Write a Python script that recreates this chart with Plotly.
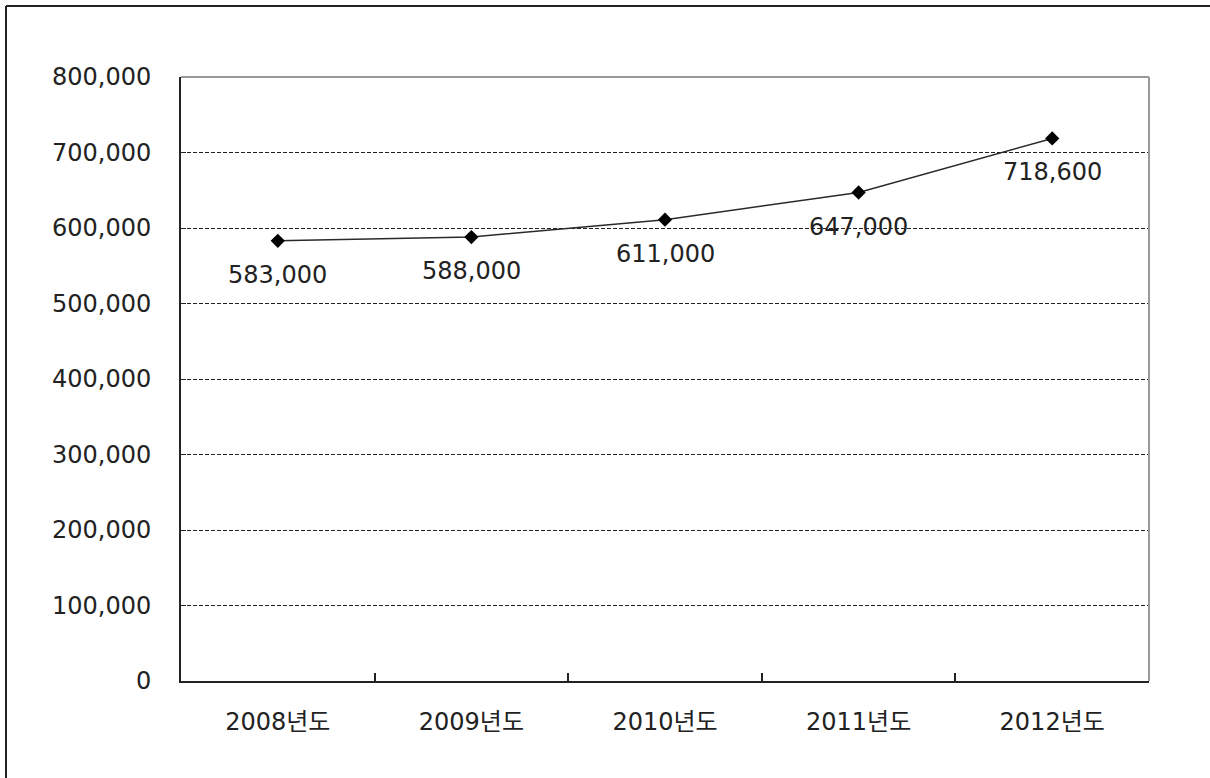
import plotly.graph_objects as go

years = ["2008년도", "2009년도", "2010년도", "2011년도", "2012년도"]
values = [583000, 588000, 611000, 647000, 718600]
y_ticks = [0, 100000, 200000, 300000, 400000, 500000, 600000, 700000, 800000]

W, H = 1210, 778
L, R, T, B = 181, 61, 77, 97
pw, ph = W - L - R, H - T - B

font_family = "DejaVu Sans, Noto Sans CJK KR, sans-serif"
FS = 24
TXT = "#222222"

fig = go.Figure()
fig.add_trace(go.Scatter(
    x=years, y=values, mode="lines+markers",
    line=dict(color="#2a2a2a", width=1.5),
    marker=dict(symbol="diamond", size=11, color="black"),
    showlegend=False, hoverinfo="skip",
))

for yr, v in zip(years, values):
    fig.add_annotation(x=yr, y=v, text=f"{v:,}", showarrow=False, yshift=-34,
                       font=dict(family=font_family, size=FS, color=TXT))

def px_to_paper_x(p):
    return (p - L) / pw

def px_to_paper_y(p):
    return (H - B - p) / ph

shapes = [
    # outer frame (top and left visible)
    dict(type="line", xref="paper", yref="paper", x0=px_to_paper_x(6), x1=px_to_paper_x(1215),
         y0=px_to_paper_y(6), y1=px_to_paper_y(6), line=dict(color="#222222", width=2)),
    dict(type="line", xref="paper", yref="paper", x0=px_to_paper_x(6), x1=px_to_paper_x(6),
         y0=px_to_paper_y(6), y1=px_to_paper_y(790), line=dict(color="#222222", width=2)),
    # plot frame top/right gray
    dict(type="line", xref="paper", yref="paper", x0=0, x1=1, y0=1, y1=1,
         line=dict(color="#999999", width=2)),
    dict(type="line", xref="paper", yref="paper", x0=1, x1=1, y0=0, y1=1,
         line=dict(color="#999999", width=2)),
]

fig.update_layout(
    width=W, height=H,
    margin=dict(l=L, r=R, t=T, b=B, pad=0),
    paper_bgcolor="white", plot_bgcolor="white",
    font=dict(family=font_family, size=FS, color=TXT),
    shapes=shapes,
    xaxis=dict(
        type="category", range=[-0.5, 4.5], tickson="boundaries",
        ticks="inside", ticklen=8, tickwidth=1.5, tickcolor="#222222",
        showgrid=False, zeroline=False,
        showline=True, linecolor="#222222", linewidth=2,
        tickfont=dict(size=FS, color=TXT), ticklabelstandoff=18,
    ),
    yaxis=dict(
        range=[0, 800000], tickvals=y_ticks,
        ticktext=[f"{v:,}" for v in y_ticks],
        ticks="inside", ticklen=5, tickcolor="#222222",
        showgrid=True, gridcolor="#222222", griddash="4px,2px", gridwidth=1,
        zeroline=False, showline=True, linecolor="#222222", linewidth=2,
        tickfont=dict(size=FS, color=TXT), ticklabelstandoff=23,
    ),
)

fig.write_html("out.html", config={"displayModeBar": False},
               post_script="document.body.style.margin='0px';")
